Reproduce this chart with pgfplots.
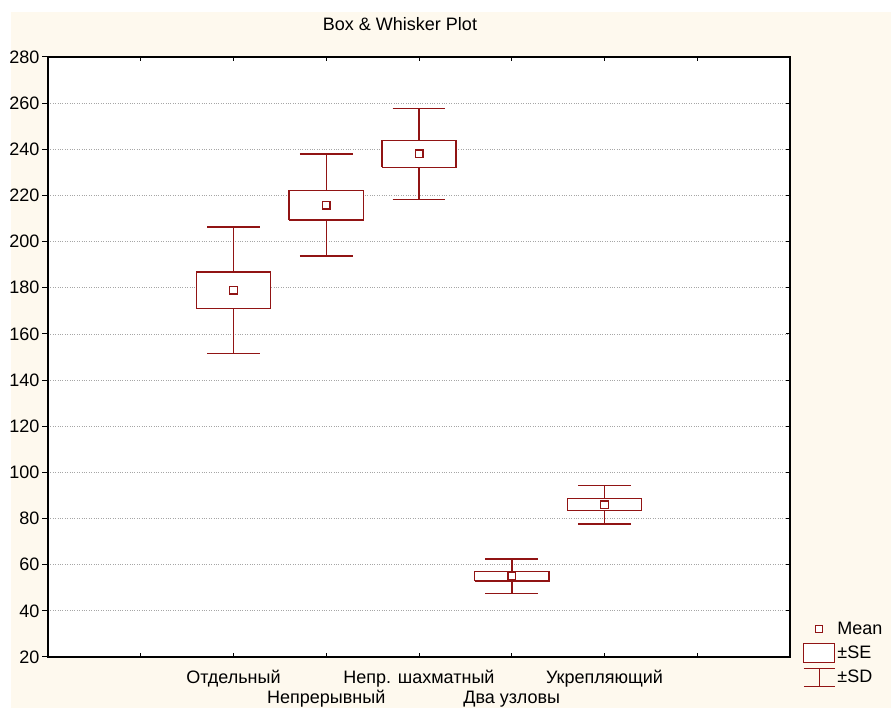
\documentclass[border=0pt]{standalone}
\usepackage{pgfplots}
\pgfplotsset{compat=1.18}
\usepackage{fontspec}
\setmainfont{Liberation Sans}
\definecolor{dred}{RGB}{145,20,20}
\definecolor{cream}{RGB}{254,249,238}
\newcommand{\lf}{\fontsize{18}{20}\selectfont}
\begin{document}
\begin{tikzpicture}
\path[use as bounding box] (0,0) rectangle (891pt,708pt);
\fill[white] (0,0) rectangle (891pt,708pt);
\fill[cream] (11pt,0) rectangle (891pt,696pt);
\begin{axis}[
  at={(48pt,51pt)}, anchor=south west,
  scale only axis, width=742pt, height=600pt,
  xmin=-1, xmax=7, ymin=20, ymax=280,
  axis background/.style={fill=white},
  xtick={0,...,6},
  xticklabels={{},{\strut Отдельный},{\strut\\Непрерывный},{\strut Непр. шахматный},{\strut\\Два узловы},{\strut Укрепляющий},{}},
  xticklabel style={align=center, font=\lf, yshift=-3pt},
  xtick style={draw=none},
  ytick={20,40,...,280},
  yticklabel style={font=\lf, xshift=1pt},
  /pgf/number format/assume math mode=true,
  tick align=outside, major tick length=6pt,
  ytick pos=left,
  ytick style={black, line width=1pt},
  ymajorgrids, grid style={dotted, gray!70, line width=0.8pt},
  axis line style={black, line width=1.5pt},
  title={Box \& Whisker Plot},
  title style={at={(0.4744,1)}, anchor=base, yshift=20pt, font=\lf},
  unbounded coords=jump,
  legend style={at={(1.0135,0.0667)}, anchor=north west, draw=none, fill=none,
    font=\lf, row sep=4pt},
  legend cell align=left,
]
% whiskers (mean +- SD) with caps
\addplot[forget plot, dred, line width=1.5pt] coordinates {
(1,151.6) (1,206.3) (nan,nan) (0.715,151.6) (1.285,151.6) (nan,nan) (0.715,206.3) (1.285,206.3) (nan,nan)
(2,193.8) (2,238.0) (nan,nan) (1.715,193.8) (2.285,193.8) (nan,nan) (1.715,238.0) (2.285,238.0) (nan,nan)
(3,218.3) (3,257.7) (nan,nan) (2.715,218.3) (3.285,218.3) (nan,nan) (2.715,257.7) (3.285,257.7) (nan,nan)
(4,47.5) (4,62.5) (nan,nan) (3.715,47.5) (4.285,47.5) (nan,nan) (3.715,62.5) (4.285,62.5) (nan,nan)
(5,77.6) (5,94.4) (nan,nan) (4.715,77.6) (5.285,77.6) (nan,nan) (4.715,94.4) (5.285,94.4)
};
% boxes (mean +- SE)
\addplot[forget plot, draw=dred, fill=white, line width=1.4pt] coordinates {(0.6,171.1) (1.4,171.1) (1.4,186.8) (0.6,186.8) (0.6,171.1)};
\addplot[forget plot, draw=dred, fill=white, line width=1.4pt] coordinates {(1.6,209.4) (2.4,209.4) (2.4,222.1) (1.6,222.1) (1.6,209.4)};
\addplot[forget plot, draw=dred, fill=white, line width=1.4pt] coordinates {(2.6,232.2) (3.4,232.2) (3.4,243.8) (2.6,243.8) (2.6,232.2)};
\addplot[forget plot, draw=dred, fill=white, line width=1.4pt] coordinates {(3.6,52.9) (4.4,52.9) (4.4,57.1) (3.6,57.1) (3.6,52.9)};
\addplot[forget plot, draw=dred, fill=white, line width=1.4pt] coordinates {(4.6,83.4) (5.4,83.4) (5.4,88.6) (4.6,88.6) (4.6,83.4)};
% means
\addplot[forget plot, only marks, mark=square*, mark size=3.8pt, mark options={draw=dred, fill=white, line width=1.4pt}] coordinates {
(1,179.0) (2,215.8) (3,238.0) (4,55.0) (5,86.0)};
\addlegendimage{legend image code/.code={
  \path[draw=none, fill=none] (0pt,-10pt) rectangle (31pt,10pt);
  \draw[dred, line width=1.2pt, fill=white] (12pt,-3.5pt) rectangle (19pt,3.5pt);}}
\addlegendentry{Mean}
\addlegendimage{legend image code/.code={
  \path[draw=none, fill=none] (0pt,-10pt) rectangle (31pt,10pt);
  \draw[dred, line width=1.2pt, fill=white] (0pt,-9.5pt) rectangle (31pt,9.5pt);}}
\addlegendentry{±SE}
\addlegendimage{legend image code/.code={
  \path[draw=none, fill=none] (0pt,-10pt) rectangle (31pt,10pt);
  \draw[dred, line width=1.2pt] (0pt,9pt) -- (31pt,9pt) (0pt,-9pt) -- (31pt,-9pt) (15.5pt,9pt) -- (15.5pt,-9pt);}}
\addlegendentry{±SD}
\end{axis}
\begin{axis}[
  at={(48pt,51pt)}, anchor=south west,
  scale only axis, width=742pt, height=600pt,
  xmin=-1, xmax=7, ymin=20, ymax=280,
  xtick={0,...,6},
  ytick={20,40,...,280},
  xticklabel style={opacity=0, text opacity=0},
  yticklabel style={opacity=0, text opacity=0},
  ytick pos=right, xtick pos=both,
  tick align=inside, major tick length=4pt,
  tick style={black, line width=1pt},
  axis line style={draw=none},
]
\end{axis}
\end{tikzpicture}
\end{document}
